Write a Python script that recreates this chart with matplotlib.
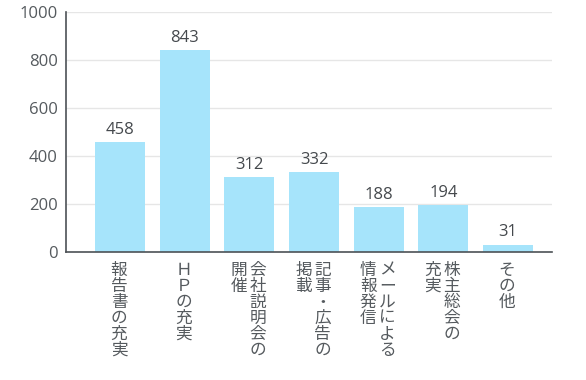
import matplotlib.pyplot as plt

plt.rcParams['font.family'] = ['Open Sans', 'Noto Sans CJK JP', 'DejaVu Sans']

# 各項目（縦書き、列ごとに右から左）
labels = [
    ['報告書の充実'],
    ['ＨＰの充実'],
    ['会社説明会の', '開催'],
    ['記事・広告の', '掲載'],
    ['メールによる', '情報発信'],
    ['株主総会の', '充実'],
    ['その他'],
]
values = [458, 843, 312, 332, 188, 194, 31]
yticks = [0, 200, 400, 600, 800, 1000]

bar_color = '#a6e4fb'
axis_color = '#4d5256'
text_color = '#555a5e'

fig = plt.figure(figsize=(5.86, 3.8), dpi=100)
ax = fig.add_axes([66 / 586, 1 - 252 / 380, (552 - 66) / 586, 240 / 380])

x = list(range(len(values)))
ax.bar(x, values, width=0.77, color=bar_color, zorder=2)

ax.set_xlim(-0.835, 6.68)
ax.set_ylim(0, 1000)
ax.set_yticks(yticks)
ax.set_xticks([])
ax.tick_params(axis='y', length=0, pad=6, labelsize=12, labelcolor=text_color)
ax.grid(axis='y', color='#e6e6e6', linewidth=1, zorder=0)

for s in ['top', 'right']:
    ax.spines[s].set_visible(False)
for s in ['left', 'bottom']:
    ax.spines[s].set_color(axis_color)
    ax.spines[s].set_linewidth(1.2)

for i, v in enumerate(values):
    ax.annotate(str(v), xy=(i, v), xytext=(0, 3), textcoords='offset points',
                ha='center', va='bottom', fontsize=12, color='#45494d')

# 縦書きラベル
for i, cols in enumerate(labels):
    n = len(cols)
    for j, col in enumerate(cols):
        dx = (n - 1) / 2 * 19 - j * 19 - 1
        ax.annotate('\n'.join(col), xy=(i, 0), xycoords=('data', 'axes fraction'),
                    xytext=(dx * 0.72, -7), textcoords='offset points',
                    ha='center', va='top', fontsize=12, linespacing=0.92,
                    color=text_color, family=['Noto Sans CJK JP', 'DejaVu Sans'])

fig.savefig('out.png', dpi=100)
